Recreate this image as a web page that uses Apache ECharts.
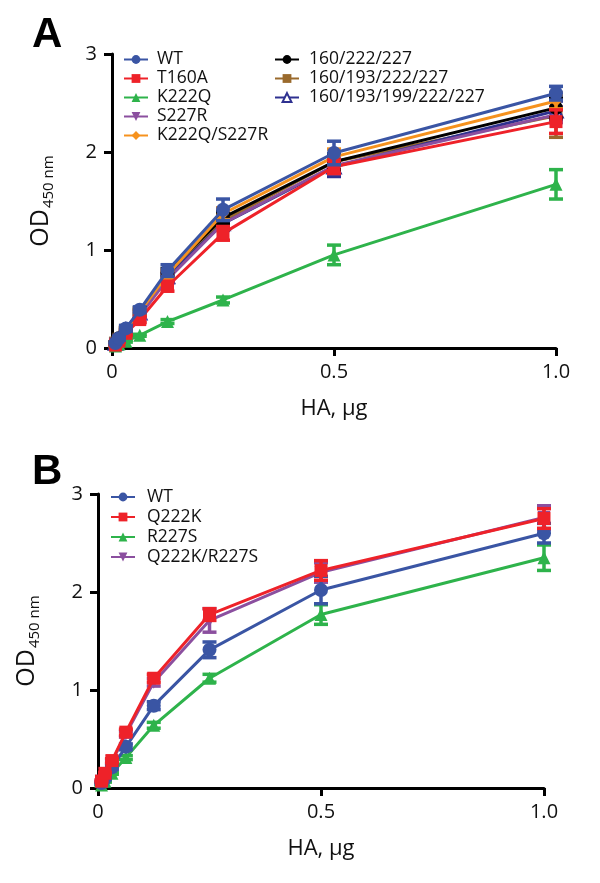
<!DOCTYPE html>
<html>
<head>
<meta charset="utf-8">
<script src="https://cdn.jsdelivr.net/npm/echarts@6/dist/echarts.min.js"></script>
<style>
html,body{margin:0;padding:0;background:#fff;}
#chart{width:600px;height:883px;}
</style>
</head>
<body>
<div id="chart"></div>
<script>
// ---- data ----
var doses = [0.0078, 0.0156, 0.03125, 0.0625, 0.125, 0.25, 0.5, 1.0];
var xTicks = ['0', '0.5', '1.0'];
var yTicks = ['0', '1', '2', '3'];

// Panel A
var namesA = ['WT', 'T160A', 'K222Q', 'S227R', 'K222Q/S227R', '160/222/227', '160/193/222/227', '160/193/199/222/227'];
var wtA      = [0.05, 0.10, 0.20, 0.39, 0.79, 1.41, 1.99, 2.60];
var t160a    = [0.03, 0.07, 0.15, 0.29, 0.63, 1.17, 1.85, 2.31];
var k222q    = [0.02, 0.04, 0.07, 0.13, 0.27, 0.49, 0.95, 1.67];
var s227r    = [0.04, 0.08, 0.17, 0.33, 0.70, 1.27, 1.86, 2.38];
var k222qS   = [0.05, 0.10, 0.19, 0.37, 0.75, 1.37, 1.95, 2.52];
var m3       = [0.05, 0.10, 0.19, 0.38, 0.77, 1.33, 1.90, 2.45];
var m4       = [0.05, 0.09, 0.18, 0.35, 0.72, 1.30, 1.90, 2.37];
var m5       = [0.05, 0.09, 0.18, 0.36, 0.73, 1.27, 1.85, 2.42];
var errWtA   = [0.01, 0.02, 0.03, 0.03, 0.06, 0.11, 0.12, 0.07];
var errT160a = [0.01, 0.01, 0.02, 0.03, 0.05, 0.07, 0.07, 0.12];
var errK222q = [0.00, 0.01, 0.01, 0.01, 0.02, 0.03, 0.10, 0.15];
var errS227r = [0.01, 0.01, 0.02, 0.03, 0.04, 0.06, 0.08, 0.08];
var errK222qS= [0.01, 0.01, 0.02, 0.03, 0.04, 0.06, 0.08, 0.08];
var errM3    = [0.01, 0.01, 0.02, 0.03, 0.04, 0.06, 0.08, 0.10];
var errM4    = [0.01, 0.01, 0.02, 0.03, 0.04, 0.06, 0.08, 0.22];
var errM5    = [0.01, 0.01, 0.02, 0.03, 0.04, 0.07, 0.10, 0.10];

// Panel B
var namesB = ['WT', 'Q222K', 'R227S', 'Q222K/R227S'];
var wtB      = [0.05, 0.10, 0.21, 0.42, 0.84, 1.41, 2.02, 2.60];
var q222k    = [0.07, 0.15, 0.28, 0.57, 1.12, 1.77, 2.22, 2.75];
var r227s    = [0.03, 0.07, 0.15, 0.31, 0.64, 1.12, 1.77, 2.35];
var q222kR   = [0.07, 0.14, 0.27, 0.55, 1.08, 1.71, 2.20, 2.76];
var errWtB   = [0.01, 0.01, 0.02, 0.03, 0.04, 0.08, 0.14, 0.10];
var errQ222k = [0.01, 0.01, 0.02, 0.03, 0.04, 0.06, 0.10, 0.10];
var errR227s = [0.01, 0.01, 0.01, 0.02, 0.03, 0.04, 0.10, 0.13];
var errQ222kR= [0.01, 0.01, 0.02, 0.03, 0.04, 0.12, 0.10, 0.12];

// ---- styles ----
var FONT = 'Open Sans';
var C = {
  blue: '#3a55a4', red: '#ee2229', green: '#2eb34b', purple: '#8b4f9f',
  orange: '#f6921e', black: '#000000', brown: '#9a6a2d', navy: '#2e3190'
};

function pairs(vals) { return doses.map(function (d, i) { return [d, vals[i]]; }); }
function errPairs(vals, errs) { return doses.map(function (d, i) { return [d, vals[i] - errs[i], vals[i] + errs[i]]; }); }

function lineSeries(name, vals, color, symbol, gi, z, hollow) {
  var size = symbol === 'diamond' ? 12 : (symbol === 'rect' ? 13 : (symbol === 'circle' ? 14 : 13));
  return {
    type: 'line', name: name, data: pairs(vals), xAxisIndex: gi, yAxisIndex: gi,
    symbol: symbol, symbolSize: size,
    showSymbol: true, z: z, animation: false,
    lineStyle: { color: color, width: 3 },
    itemStyle: hollow ? { color: '#ffffff', borderColor: color, borderWidth: 2.5 } : { color: color, borderWidth: 0 },
    emphasis: { disabled: true }
  };
}

function errSeries(name, vals, errs, color, gi, z) {
  return {
    type: 'custom', name: name, xAxisIndex: gi, yAxisIndex: gi, z: z, animation: false,
    data: errPairs(vals, errs),
    encode: { x: 0, y: [1, 2] },
    renderItem: function (params, api) {
      var x = api.value(0);
      var lo = api.coord([x, api.value(1)]);
      var hi = api.coord([x, api.value(2)]);
      var w = 7;
      var st = { stroke: color, lineWidth: 3.5, fill: null };
      return {
        type: 'group',
        children: [
          { type: 'line', shape: { x1: lo[0], y1: lo[1], x2: hi[0], y2: hi[1] }, style: st },
          { type: 'line', shape: { x1: lo[0] - w, y1: lo[1], x2: lo[0] + w, y2: lo[1] }, style: st },
          { type: 'line', shape: { x1: hi[0] - w, y1: hi[1], x2: hi[0] + w, y2: hi[1] }, style: st }
        ]
      };
    }
  };
}

var seriesA = [
  ['160/193/222/227', m4, errM4, C.brown, 'rect', false],
  ['160/193/199/222/227', m5, errM5, C.navy, 'triangle', true],
  ['K222Q', k222q, errK222q, C.green, 'triangle', false],
  ['S227R', s227r, errS227r, C.purple, 'path://M0,0 L10,0 L5,9 Z', false],
  ['160/222/227', m3, errM3, C.black, 'circle', false],
  ['K222Q/S227R', k222qS, errK222qS, C.orange, 'diamond', false],
  ['T160A', t160a, errT160a, C.red, 'rect', false],
  ['WT', wtA, errWtA, C.blue, 'circle', false]
];
var seriesB = [
  ['R227S', r227s, errR227s, C.green, 'triangle', false],
  ['Q222K/R227S', q222kR, errQ222kR, C.purple, 'path://M0,0 L10,0 L5,9 Z', false],
  ['WT', wtB, errWtB, C.blue, 'circle', false],
  ['Q222K', q222k, errQ222k, C.red, 'rect', false]
];

var series = [];
seriesA.forEach(function (s, i) {
  series.push(errSeries('errA' + i, s[1], s[2], s[3], 0, 2 + i * 2));
  series.push(lineSeries(s[0], s[1], s[3], s[4], 0, 3 + i * 2, s[5]));
});
seriesB.forEach(function (s, i) {
  series.push(errSeries('errB' + i, s[1], s[2], s[3], 1, 2 + i * 2));
  series.push(lineSeries(s[0], s[1], s[3], s[4], 1, 3 + i * 2, s[5]));
});

function xAxisDef(gi) {
  return {
    type: 'value', gridIndex: gi, min: 0, max: 1, interval: 0.5,
    name: 'HA, µg', nameLocation: 'middle', nameGap: 50,
    nameTextStyle: { fontFamily: FONT, fontSize: 22, color: '#111' },
    axisLine: { onZero: false, lineStyle: { color: '#000', width: 3 } },
    axisTick: { show: true, length: 8, lineStyle: { color: '#000', width: 3 } },
    axisLabel: { margin: 14, fontFamily: FONT, fontSize: 20, color: '#111',
      formatter: function (v) { return xTicks[Math.round(v / 0.5)]; } },
    splitLine: { show: false }
  };
}
function yAxisDef(gi) {
  return {
    type: 'value', gridIndex: gi, min: 0, max: 3, interval: 1,
    name: '{a|OD}{b|450 nm}', nameLocation: 'middle', nameGap: 56, nameRotate: 90,
    nameTextStyle: { fontFamily: FONT, color: '#111',
      rich: { a: { fontFamily: FONT, fontSize: 25, color: '#111' },
              b: { fontFamily: FONT, fontSize: 15, color: '#111', padding: [16, 0, 0, 1] } } },
    axisLine: { onZero: false, lineStyle: { color: '#000', width: 3 } },
    axisTick: { show: true, length: 8, lineStyle: { color: '#000', width: 3 } },
    axisLabel: { margin: 15, fontFamily: FONT, fontSize: 20, color: '#111',
      formatter: function (v) { return yTicks[Math.round(v)]; } },
    splitLine: { show: false }
  };
}

function legText(pad, lh) {
  return { fontFamily: FONT, fontSize: 17.5, color: '#111', lineHeight: lh, padding: [0, 0, 0, pad] };
}
var option = {
  backgroundColor: '#fff',
  animation: false,
  title: [
    { text: 'A', left: 27, top: 9, textStyle: { fontFamily: 'Liberation Sans', fontWeight: 'bold', fontSize: 42, color: '#000' } },
    { text: 'B', left: 27, top: 446, textStyle: { fontFamily: 'Liberation Sans', fontWeight: 'bold', fontSize: 42, color: '#000' } }
  ],
  grid: [
    { left: 112, right: 44, top: 54, height: 294 },
    { left: 98, right: 56, top: 494, height: 294 }
  ],
  xAxis: [xAxisDef(0), xAxisDef(1)],
  yAxis: [yAxisDef(0), yAxisDef(1)],
  legend: [
    { data: namesA.slice(0, 5), orient: 'vertical', left: 123, top: 50, padding: 0, itemWidth: 24, itemHeight: 11, itemGap: 0, textStyle: legText(4, 19), selectedMode: false },
    { data: namesA.slice(5), orient: 'vertical', left: 274, top: 50, padding: 0, itemWidth: 24, itemHeight: 11, itemGap: 0, textStyle: legText(5, 19), selectedMode: false },
    { data: namesB, orient: 'vertical', left: 110, top: 487, padding: 0, itemWidth: 24, itemHeight: 11, itemGap: 0, textStyle: legText(7, 20), selectedMode: false }
  ],
  series: series
};

var chart = echarts.init(document.getElementById('chart'), null, { renderer: 'canvas' });
chart.setOption(option);
</script>
</body>
</html>
